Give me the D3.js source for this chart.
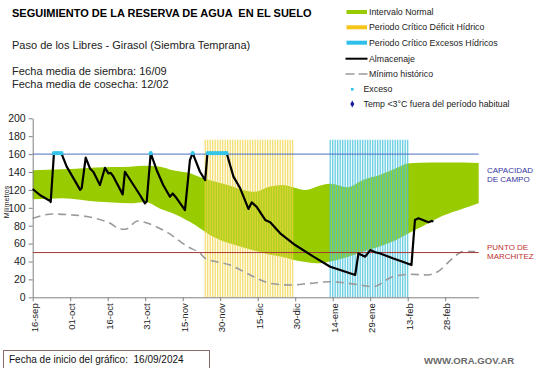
<!DOCTYPE html>
<html><head><meta charset="utf-8">
<script src="https://cdn.jsdelivr.net/npm/d3@7"></script>
<style>
body{margin:0;background:#fff;}
svg{display:block;font-family:"Liberation Sans",Arial,sans-serif;}
</style></head>
<body><svg id="c" width="541" height="368"></svg>
<script>
// ---- data ----
const xTickDays = [0,15,30,45,60,75,90,105,120,135,150,165];
const xTickLabels = ["16-sep","01-oct","16-oct","31-oct","15-nov","30-nov","15-dic","30-dic","14-ene","29-ene","13-feb","28-feb"];
const yTicks = [0,20,40,60,80,100,120,140,160,180,200];

const normalDays  = [0,6,12,19,25,32,39,45,51,56,63,67,72,78,84,89,94,100,104,109,115,119,126,132,139,146,150,155,164,172,178.4];
const normalUpper = [142,142.5,143,144,145,145.5,146,147,146,142,138.5,134,130,125.5,120,118,123,125.5,123,120,125,127,123,131,137,145,149.5,150.3,150.5,150.5,150];
const normalLower = [109.5,110,110.6,109,107,106,105,106.5,99,94,84,77,68,61,56,52,48,45,42,39.5,38,40,45,51,57,65,71,78,91,99,105];

const minDays = [0,8,16,24,31,35,37,42,46,54,62,67,69,79,87,95,103,111,119,131,136,144,151,158,162,168,172,177];
const minVals = [88.3,93,92,89,82.7,76.3,76,85.3,82.7,72.2,56.5,49,43.6,36,25,15.6,13.7,15.6,17.4,13.7,11.8,23,25.7,25,28.6,43.6,51,51];

const storDays = [0,3,7,7.2,8.5,11.6,13.6,19,19.6,21.2,22.9,24.3,26.9,28.9,30.3,31.2,32.3,36,36.9,42.9,44.9,45.6,47.2,49.6,52.2,54.9,56,57.6,60.9,62.9,64,66.9,69,69.9,77.6,80.3,83,86.3,87.6,89.6,93,95,99,105,112.3,119,123,129,130.3,133,135,137,139,144,148,151.5,152.9,154.3,158.3,159.6,160.3];
const storVals = [121,114,107.6,106.5,161,160,146,120,122,156,144,140,125.5,144.7,138.5,139,134.8,115,140.3,114.3,105,107,161,142,125.5,112.4,116,110.6,97.5,153.4,161,140.3,131,161,161,134.8,121.8,98.7,106,101,86.4,83.8,71.5,58.4,45.4,34.2,30.5,25,49,45.4,52.8,50.3,49,43.6,39.8,36,86.4,88.3,83.8,85.3,84.6];

const excesoDays = [8.5,9.5,10.5,11.5,47.2,64,70,71,72,73,74,75,76,77,77.5];
const excesoVals = [161,161,161,161,161,161,161,161,161,161,161,161,161,161,161];

const deficitPeriod = [69,104];
const excessPeriod = [119,150];
const capacidadCampo = 160;
const puntoMarchitez = 50;

const legendLabels = ["Intervalo Normal","Periodo Crítico Déficit Hídrico","Periodo Crítico Excesos Hídricos","Almacenaje","Mínimo histórico","Exceso","Temp <3°C fuera del período habitual"];

// ---- scales ----
const svg = d3.select("#c");
const x = d3.scaleLinear().domain([0,178.4]).range([32.7,478.7]);
const y = d3.scaleLinear().domain([0,200]).range([297.3,118.3]);

// green band
const band = normalDays.map((d,i)=>({d,u:normalUpper[i],l:normalLower[i]}));
svg.append("path").datum(band)
  .attr("d", d3.area().x(p=>x(p.d)).y0(p=>y(p.l)).y1(p=>y(p.u)).curve(d3.curveMonotoneX))
  .attr("fill","#99cc00");

// critical period stripes
function stripes(period, color, fillCol, w){
  const g = svg.append("g");
  g.append("rect").attr("x",x(period[0])).attr("y",y(176)).attr("width",x(period[1])-x(period[0])).attr("height",y(0)-y(176))
    .attr("fill",fillCol).attr("opacity",0.18);
  const days = d3.range(period[0], period[1]+0.01, 1);
  g.selectAll("line").data(days).join("line")
    .attr("x1",d=>x(d)).attr("x2",d=>x(d)).attr("y1",y(176)).attr("y2",y(0))
    .attr("stroke",color).attr("stroke-width",w).attr("opacity",0.8);
}
stripes(deficitPeriod,"#f0d040","#fff2a0",1.1);
stripes(excessPeriod,"#40c0dc","#a0e4f0",1.2);

// minimum historic
svg.append("path").datum(minDays.map((d,i)=>[d,minVals[i]]))
  .attr("d", d3.line().x(p=>x(p[0])).y(p=>y(p[1])).curve(d3.curveMonotoneX))
  .attr("fill","none").attr("stroke","#9a9a9a").attr("stroke-width",1.6).attr("stroke-dasharray","8,5");

// reference lines
svg.append("line").attr("x1",x(0)).attr("x2",x(178.4)).attr("y1",y(capacidadCampo)).attr("y2",y(capacidadCampo))
  .attr("stroke","#4a6fc4").attr("stroke-width",1);
svg.append("line").attr("x1",x(0)).attr("x2",x(178.4)).attr("y1",y(puntoMarchitez)).attr("y2",y(puntoMarchitez))
  .attr("stroke","#a83838").attr("stroke-width",1);

// axes
const yAx = svg.append("g").attr("transform",`translate(${x(0)},0)`)
  .call(d3.axisLeft(y).tickValues(yTicks).tickSize(4).tickSizeOuter(0).tickPadding(3));
yAx.selectAll("text").attr("font-size","10.5px").attr("fill","#222").attr("font-family","Liberation Sans, Arial");
yAx.selectAll("line,path").attr("stroke","#808080");

const xAx = svg.append("g").attr("transform",`translate(0,${y(0)})`)
  .call(d3.axisBottom(x).tickValues(xTickDays).tickFormat((d,i)=>xTickLabels[i]).tickSize(4).tickSizeOuter(0));
xAx.selectAll("line,path").attr("stroke","#808080");
xAx.selectAll("text").attr("transform","rotate(-90)").attr("text-anchor","end")
  .attr("x",-6).attr("y",1).attr("dy","0.35em").attr("font-size","9.5px").attr("fill","#222").attr("font-family","Liberation Sans, Arial");

// storage line
svg.append("path").datum(storDays.map((d,i)=>[d,storVals[i]]))
  .attr("d", d3.line().x(p=>x(p[0])).y(p=>y(p[1])))
  .attr("fill","none").attr("stroke","#000").attr("stroke-width",2.2).attr("stroke-linejoin","round");

// exceso markers
svg.selectAll("circle.ex").data(excesoDays).join("circle").attr("class","ex")
  .attr("cx",d=>x(d)).attr("cy",(d,i)=>y(excesoVals[i])).attr("r",2.1).attr("fill","#33c6ea");

// y label
svg.append("text").attr("transform","translate(9,202) rotate(-90)").attr("text-anchor","middle")
  .attr("font-size","7px").attr("fill","#222").text("Milímetros");

// right labels
const rl = svg.append("g").attr("font-size","8px");
rl.append("text").attr("x",487).attr("y",173).attr("fill","#3636a0").text("CAPACIDAD");
rl.append("text").attr("x",487).attr("y",182).attr("fill","#3636a0").text("DE  CAMPO");
rl.append("text").attr("x",487).attr("y",249.5).attr("fill","#c03030").text("PUNTO  DE");
rl.append("text").attr("x",487).attr("y",258.5).attr("fill","#c03030").text("MARCHITEZ");

// titles
svg.append("text").attr("x",12).attr("y",17).attr("font-size","11px").attr("font-weight","bold").attr("fill","#000")
  .text("SEGUIMIENTO DE LA RESERVA DE AGUA  EN EL SUELO").attr("xml:space","preserve").style("white-space","pre");
svg.append("text").attr("x",12).attr("y",48.5).attr("font-size","11px").attr("fill","#222").text("Paso de los Libres - Girasol (Siembra Temprana)");
svg.append("text").attr("x",12).attr("y",75).attr("font-size","11px").attr("fill","#222").text("Fecha media de siembra: 16/09");
svg.append("text").attr("x",12).attr("y",87.5).attr("font-size","11px").attr("fill","#222").text("Fecha media de cosecha: 12/02");

// legend
const lg = svg.append("g").attr("font-size","8.8px").attr("fill","#222");
const ly = [12,27.3,42.7,58.7,74,89.3,104];
lg.append("rect").attr("x",346.5).attr("y",ly[0]-2).attr("width",20.5).attr("height",4).attr("fill","#99cc00");
lg.append("rect").attr("x",346.5).attr("y",ly[1]-2).attr("width",20.5).attr("height",4).attr("fill","#f5c518");
lg.append("rect").attr("x",346.5).attr("y",ly[2]-2).attr("width",20.5).attr("height",4).attr("fill","#2ec0ea");
lg.append("line").attr("x1",345.5).attr("x2",367.5).attr("y1",ly[3]).attr("y2",ly[3]).attr("stroke","#000").attr("stroke-width",2);
lg.append("line").attr("x1",345.5).attr("x2",367.5).attr("y1",ly[4]).attr("y2",ly[4]).attr("stroke","#9a9a9a").attr("stroke-width",1.6).attr("stroke-dasharray","9,4");
lg.append("rect").attr("x",351).attr("y",ly[5]-1.3).attr("width",2.6).attr("height",2.6).attr("fill","#33c6ea");
lg.append("path").attr("d",d3.symbol().type(d3.symbolDiamond).size(14)).attr("transform",`translate(352.3,${ly[6]})`).attr("fill","#1a1aa0");
legendLabels.forEach((t,i)=>{
  lg.append("text").attr("x", i<5?369:363.5).attr("y",ly[i]).attr("dy","0.35em").text(t);
});

// footer
svg.append("rect").attr("x",3.5).attr("y",350.5).attr("width",206).attr("height",19).attr("fill","none").attr("stroke","#8a6a6a").attr("stroke-width",1);
svg.append("text").attr("x",9).attr("y",362.5).attr("font-size","10px").attr("fill","#111")
  .attr("xml:space","preserve").style("white-space","pre").text("Fecha de inicio del gráfico:  16/09/2024");
svg.append("text").attr("x",424).attr("y",364).attr("font-size","9.6px").attr("font-weight","bold").attr("fill","#6a6a6a").text("WWW.ORA.GOV.AR");
</script></body></html>
